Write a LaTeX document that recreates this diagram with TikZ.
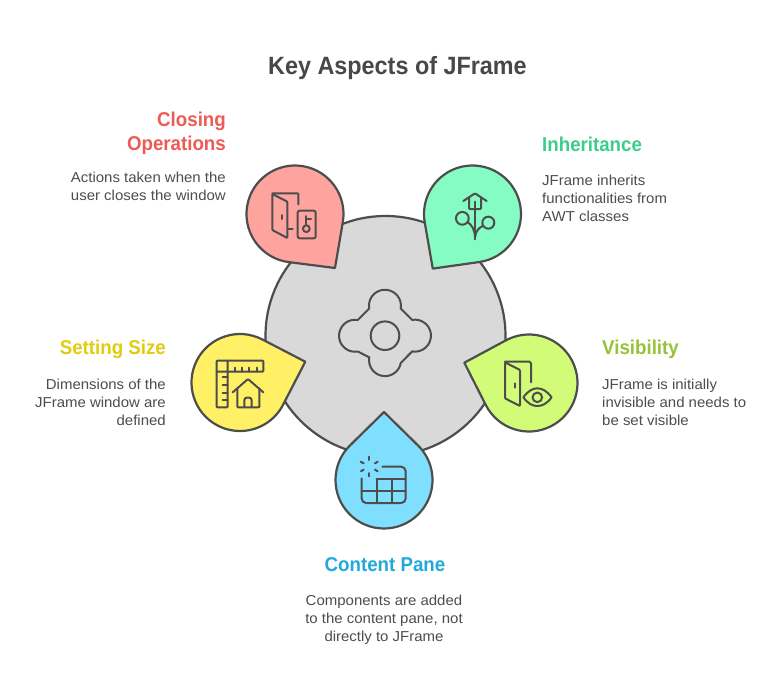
\documentclass[tikz,border=0pt]{standalone}
\usepackage{fontspec}
\setmainfont{Liberation Sans}
\newfontfamily\headfont[FakeStretch=0.935]{Liberation Sans}
\newfontfamily\bodyfont[FakeStretch=1.04]{Liberation Sans}
\definecolor{ink}{HTML}{4D4D4D}
\definecolor{titleink}{HTML}{484848}
\definecolor{redfill}{HTML}{FFA39E}
\definecolor{greenfill}{HTML}{85FCC3}
\definecolor{yellowfill}{HTML}{FFF066}
\definecolor{limefill}{HTML}{D2FC78}
\definecolor{bluefill}{HTML}{80DFFF}
\definecolor{redtxt}{HTML}{EE5A55}
\definecolor{greentxt}{HTML}{3ECB8F}
\definecolor{yellowtxt}{HTML}{E2CC10}
\definecolor{limetxt}{HTML}{97C23A}
\definecolor{bluetxt}{HTML}{22A9DB}
\tikzset{
  outline/.style={draw=ink,line width=2.2pt,line join=round},
  icon/.style={draw=ink,line width=2pt,line cap=round,line join=round,rounded corners=0.8pt},
  head/.style={font=\headfont\fontsize{20}{24}\selectfont\bfseries,inner sep=0pt},
  body/.style={font=\bodyfont\fontsize{14.4}{18}\selectfont,text=ink,inner sep=0pt},
  ttl/.style={font=\headfont\fontsize{25}{30}\selectfont\bfseries,text=titleink,inner sep=0pt}
}
% centre x, centre y, tip x, tip y, fill
\newcommand{\dropshape}[5]{%
  \pgfmathsetmacro{\dx}{#3-#1}\pgfmathsetmacro{\dy}{#2-#4}%
  \pgfmathsetmacro{\dd}{veclen(\dx,\dy)}\pgfmathsetmacro{\aa}{atan2(\dy,\dx)}%
  \pgfmathsetmacro{\tt}{acos(48.5/\dd)}%
  \begin{scope}[shift={(#1,#2)},x=1pt,y=1pt,rotate=\aa]
    \path[outline,fill=#5] (\dd,0) -- (\tt:48.5) arc[start angle=\tt,end angle=360-\tt,radius=48.5pt] -- cycle;
  \end{scope}}
\begin{document}
\begin{tikzpicture}[x=1pt,y=-1pt]
\useasboundingbox (0,0) rectangle (780,697);
\fill[white] (0,0) rectangle (780,697);
\node[ttl] (title) at (397.5,68) {Key Aspects of JFrame};

\path[outline,fill=black!15] (385.5,336) circle[radius=120pt];

% centre emblem
\begin{scope}[shift={(385,335.7)},x=1pt,y=1pt]
  \draw[draw=ink,line width=2pt] (0,0) circle[radius=14.3pt];
  \draw[draw=ink,line width=2pt,line join=round]
    (-15.8,27.2) arc[start angle=190,end angle=-10,radius=16pt]
    -- (27.2,15.8) arc[start angle=100,end angle=-100,radius=16pt]
    -- (15.8,-27.2) arc[start angle=-10,end angle=-190,radius=16pt]
    -- (-27.2,-15.8) arc[start angle=-80,end angle=-280,radius=16pt]
    -- cycle;
\end{scope}

\dropshape{295}{214}{335}{268}{redfill}
\dropshape{472.5}{214}{432.7}{268.7}{greenfill}
\dropshape{240}{382.5}{305.3}{361.7}{yellowfill}
\dropshape{529}{383}{464.3}{362.7}{limefill}
\dropshape{384}{480}{384}{412}{bluefill}

% closing operations icon
\begin{scope}[shift={(230,150)},x=1pt/3,y=-1pt/3]
  \draw[icon] (127,130) -- (205,130) -- (205,163);
  \draw[icon] (127,132) -- (172,155) -- (172,264) -- (127,240) -- cycle;
  \draw[icon] (157,195) -- (157,207);
  \draw[icon] (175,238) -- (188,238);
  \draw[icon,rounded corners=2pt] (203,182) rectangle (257,265);
  \draw[icon] (229,236) circle[radius=3.4pt];
  \draw[icon] (229,225) -- (229,198);
  \draw[icon] (229,207) -- (243,207);
\end{scope}

% inheritance icon
\begin{scope}[shift={(410,150)},x=1pt/3,y=-1pt/3]
  \draw[icon] (160,153) -- (195,130) -- (230,153);
  \draw[icon] (177,143) -- (177,177) -- (213,177) -- (213,143);
  \draw[icon,line width=2.2pt] (195,155) -- (195,268);
  \draw[icon] (157,205) circle[radius=6.4pt];
  \draw[icon] (235,218) circle[radius=6pt];
  \draw[icon] (173,216) .. controls (186,226) and (194,238) .. (195,262);
  \draw[icon] (218,228) .. controls (206,234) and (198,242) .. (195,262);
\end{scope}

% setting size icon
\begin{scope}[shift={(180,320)},x=1pt/3,y=-1pt/3]
  \draw[icon] (110,122) -- (250,122) -- (250,155) -- (143,155) -- (143,262) -- (110,262) -- cycle;
  \draw[icon] (110,155) -- (143,155) -- (143,122);
  \foreach \p in {165,187,207,230} \draw[icon] (\p,155) -- (\p,143);
  \foreach \p in {172,195,218,240} \draw[icon] (143,\p) -- (128,\p);
  \draw[icon] (158,217) -- (204,177) -- (250,217);
  \draw[icon] (172,205) -- (172,262) -- (238,262) -- (238,205);
  \draw[icon,rounded corners=2.5pt] (193,262) -- (193,233) -- (215,233) -- (215,262);
\end{scope}

% visibility icon
\begin{scope}[shift={(460,320)},x=1pt/3,y=-1pt/3]
  \draw[icon,rounded corners=1.5pt] (135,125) -- (213,125) -- (213,187);
  \draw[icon] (135,127) -- (180,150) -- (180,258) -- (135,235) -- cycle;
  \draw[icon] (165,190) -- (165,203);
  \draw[icon,rounded corners=0pt] (190,232) .. controls (205,212) and (218,205) .. (232,205) .. controls (246,205) and (260,212) .. (275,232) .. controls (260,252) and (246,258) .. (232,258) .. controls (218,258) and (205,252) .. (190,232) -- cycle;
  \draw[icon] (232,232) circle[radius=4.8pt];
\end{scope}

% content pane icon
\begin{scope}[shift={(325,405)},x=1pt/3,y=-1pt/3]
  \draw[icon] (132,155) -- (132,165);
  \draw[icon] (132,204) -- (132,214);
  \draw[icon] (150,175) -- (158,170);
  \draw[icon] (107,170) -- (116,175);
  \draw[icon] (108,198) -- (116,194);
  \draw[icon] (150,194) -- (158,199);
  \draw[icon,rounded corners=4.5pt] (172,185) -- (242,185) -- (242,294) -- (110,294) -- (110,220);
  \draw[icon] (155,222) -- (242,222);
  \draw[icon] (110,258) -- (242,258);
  \draw[icon] (155,222) -- (155,294);
  \draw[icon] (200,222) -- (200,294);
\end{scope}

% texts
\node[head,text=redtxt,anchor=east,align=right] (closingH) at (226,133) {Closing\\Operations};
\node[body,anchor=east,align=right] (closingB) at (226,186) {Actions taken when the\\user closes the window};
\node[head,text=greentxt,anchor=west] (inhH) at (542,144) {Inheritance};
\node[body,anchor=west,align=left] (inhB) at (542,198) {JFrame inherits\\functionalities from\\AWT classes};
\node[head,text=yellowtxt,anchor=east] (sizeH) at (166,349.5) {Setting Size};
\node[body,anchor=east,align=right] (sizeB) at (166,402) {Dimensions of the\\JFrame window are\\defined};
\node[head,text=limetxt,anchor=west] (visH) at (602,349.5) {Visibility};
\node[body,anchor=west,align=left] (visB) at (602,402) {JFrame is initially\\invisible and needs to\\be set visible};
\node[head,text=bluetxt] (paneH) at (385,564.7) {Content Pane};
\node[body,align=center] (paneB) at (384,619.5) {Components are added\\to the content pane, not\\directly to JFrame};
\end{tikzpicture}
\end{document}
